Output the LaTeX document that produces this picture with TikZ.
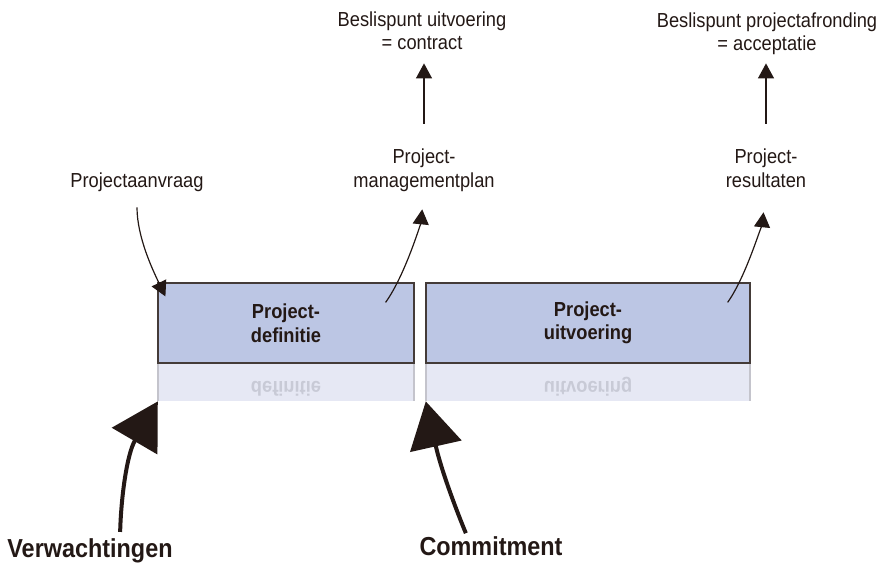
\documentclass[tikz,border=0pt]{standalone}
\usepackage{graphicx}
\usepackage{fontspec}
\setmainfont[FakeStretch=0.9]{Liberation Sans}
\usetikzlibrary{calc, arrows.meta}
\definecolor{inkt}{HTML}{231815}
\definecolor{fasevul}{HTML}{BCC6E4}
\definecolor{spiegelvul}{HTML}{E6E8F4}
\definecolor{spiegelrand}{HTML}{C4C4CC}
\definecolor{spiegeltekst}{HTML}{C8CAD6}
\newcommand{\normaal}{\fontsize{20.3}{23.5}\selectfont}
\newcommand{\groot}{\fontsize{26}{30}\selectfont\bfseries}
\tikzset{>=latex}
\tikzset{
  fase/.style={draw=inkt!85, line width=1.2pt, fill=fasevul, minimum height=80pt,
    inner sep=0pt, font=\normaal\bfseries, text=inkt, align=center},
  spiegel/.style={fill=spiegelvul, minimum height=38pt, inner sep=0pt, anchor=north},
  tekst/.style={inner sep=0pt, align=center, text=inkt, anchor=base, font=\normaal},
  dun/.style={draw=inkt, line width=1.2pt, -{Triangle[length=15pt,width=16pt]}},
  dik/.style={draw=inkt, line width=4pt, -{Triangle[length=46pt,width=52pt]}},
}

\begin{document}
\begin{tikzpicture}[x=1pt,y=-1pt]
\useasboundingbox (0,0) rectangle (880,564);

% fasen met spiegelbeeld
\node[spiegel, minimum width=256pt] (defrefl) at (286,363) {};
\node[spiegel, minimum width=324pt] (uitrefl) at (588,363) {};
\draw[spiegelrand, line width=2pt] (defrefl.north west) -- (defrefl.south west);
\draw[spiegelrand, line width=2pt] (defrefl.north east) -- (defrefl.south east);
\draw[spiegelrand, line width=2pt] (uitrefl.north west) -- (uitrefl.south west);
\draw[spiegelrand, line width=2pt] (uitrefl.north east) -- (uitrefl.south east);
\node[tekst, font=\normaal\bfseries, text=spiegeltekst] (defmirror) at (286,381) {\scalebox{1}[-1]{definitie}};
\node[tekst, font=\normaal\bfseries, text=spiegeltekst] (uitmirror) at (588,381) {\scalebox{1}[-1]{uitvoering}};
\node[fase, minimum width=256pt] (def) at (286,323) {Project-\\definitie};
\node[fase, minimum width=324pt] (uit) at (588,323) {Project-\\uitvoering};

% teksten (anker = basislijn van de laatste regel)
\node[tekst] (aanvraag) at (137,188) {Projectaanvraag};
\node[tekst] (mplan) at (424,187) {Project-\\managementplan};
\node[tekst] (result) at (766,187) {Project-\\resultaten};
\node[tekst] (beslis1) at (422,50) {Beslispunt uitvoering\\= contract};
\node[tekst] (beslis2) at (767,51) {Beslispunt projectafronding\\= acceptatie};
\node[tekst, font=\groot] (verw) at (90,557) {Verwachtingen};
\node[tekst, font=\groot] (commit) at (491,555) {Commitment};

% pijlen
\draw[dun, shorten <=15pt] (aanvraag.south) .. controls +(0,45) and +(-12,-25) .. ($(def.north west)+(8,14)$);
\draw[dun, shorten >=18pt] ($(def.north east)+(-29,20)$) .. controls +(20,-28) and +(-3,30) .. (mplan.south);
\draw[dun, shorten >=25pt] ($(uit.north east)+(-23,20)$) .. controls +(20,-28) and +(-3,30) .. (result.south);
\draw[dun, shorten <=25pt, shorten >=13pt] (mplan.north) -- (mplan.north |- beslis1.south);
\draw[dun, shorten <=25pt, shorten >=8pt] (result.north) -- (result.north |- beslis2.south);
\draw[dik, shorten <=6pt] ($(verw.north)+(30,0)$) .. controls +(1,-40) and +(-31,53) .. (defrefl.south west);
\draw[dik, shorten <=3pt] ($(commit.north)+(-24,0)$) .. controls +(-12,-29) and +(15,67) .. (uitrefl.south west);
\end{tikzpicture}
\end{document}
